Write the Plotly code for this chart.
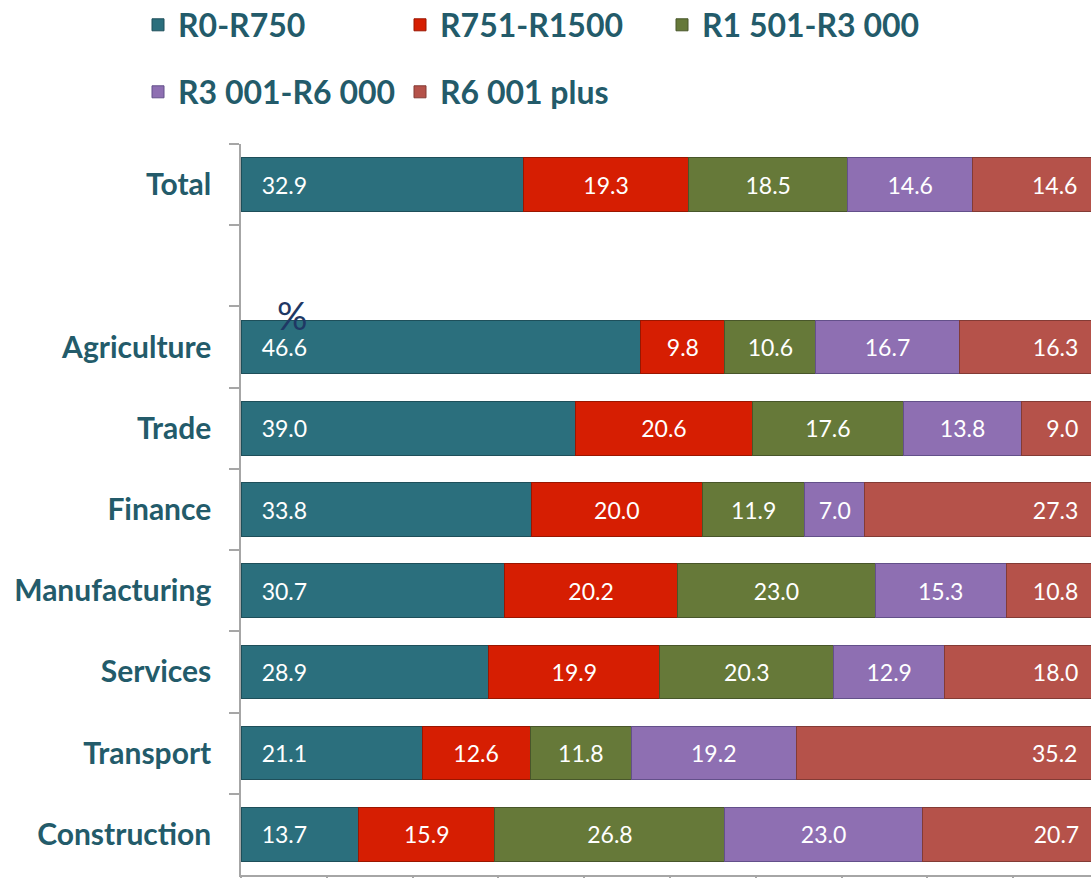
import plotly.graph_objects as go

categories = ["Total", " ", "Agriculture", "Trade", "Finance", "Manufacturing",
              "Services", "Transport", "Construction"]
series_names = ["R0-R750", "R751-R1500", "R1 501-R3 000", "R3 001-R6 000", "R6 001 plus"]
r0_r750 = [32.9, None, 46.6, 39.0, 33.8, 30.7, 28.9, 21.1, 13.7]
r751_r1500 = [19.3, None, 9.8, 20.6, 20.0, 20.2, 19.9, 12.6, 15.9]
r1501_r3000 = [18.5, None, 10.6, 17.6, 11.9, 23.0, 20.3, 11.8, 26.8]
r3001_r6000 = [14.6, None, 16.7, 13.8, 7.0, 15.3, 12.9, 19.2, 23.0]
r6001_plus = [14.6, None, 16.3, 9.0, 27.3, 10.8, 18.0, 35.2, 20.7]

values = [r0_r750, r751_r1500, r1501_r3000, r3001_r6000, r6001_plus]
colors = ["#2B6F7D", "#D61E02", "#667939", "#8E6FB2", "#B5524A"]
edges = ["#1E4F5A", "#9A1600", "#48562A", "#63508A", "#833B35"]
anchors = ["start", "middle", "middle", "middle", "end"]
NB = "\u00a0"
templates = [NB * 3 + "%{x:.1f}", "%{x:.1f}", "%{x:.1f}", "%{x:.1f}", "%{x:.1f}" + NB * 3]
legends = ["legend", "legend", "legend", "legend2", "legend2"]

TXT = "#235B6A"
FONT = "Lato"
W, H = 1091, 878
L, T, B, R = 241, 144, 3, 0
PH = H - T - B
PW = W - L - R

fig = go.Figure()
for name, vals, c, e, a, t, lg in zip(series_names, values, colors, edges, anchors, templates, legends):
    fig.add_trace(go.Bar(
        y=categories, x=vals, name=name, orientation="h",
        marker=dict(color=c, line=dict(color=e, width=1)),
        texttemplate=t, textposition="inside", insidetextanchor=a,
        textfont=dict(family=FONT, size=23, color="white"),
        legend=lg, hoverinfo="x+name",
    ))

legend_common = dict(orientation="h", xref="paper", yref="paper",
                     xanchor="left", yanchor="middle", traceorder="normal",
                     entrywidth=217, entrywidthmode="pixels",
                     font=dict(family=FONT, size=32, color=TXT, weight="bold"),
                     itemwidth=30, tracegroupgap=0, bgcolor="rgba(0,0,0,0)")

fig.update_layout(
    width=W, height=H,
    barmode="stack", bargap=0.34,
    plot_bgcolor="white", paper_bgcolor="white",
    margin=dict(l=L, r=R, t=T, b=B, autoexpand=False),
    font=dict(family=FONT, color=TXT),
    legend=dict(x=(138 - L) / PW, y=1 + (T - 25) / PH, **legend_common),
    legend2=dict(x=(138 - L) / PW, y=1 + (T - 92) / PH, **legend_common),
    xaxis=dict(range=[0, 99.07], dtick=10, tick0=0, showgrid=False, zeroline=False,
               showline=True, linecolor="#A6A6A6", linewidth=1.5,
               ticks="outside", ticklen=6, tickcolor="#A6A6A6", tickwidth=1.5,
               showticklabels=False, automargin=False),
    yaxis=dict(categoryorder="array", categoryarray=categories, autorange="reversed",
               showgrid=False, zeroline=False,
               showline=True, linecolor="#A6A6A6", linewidth=1.5,
               ticks="outside", ticklen=10, tickcolor="#A6A6A6", tickwidth=1.5,
               tickson="boundaries", ticklabelstandoff=22, automargin=False,
               tickfont=dict(family=FONT, size=30, color=TXT, weight="bold")),
)

fig.add_annotation(x=5.9, y=1.6, xref="x", yref="y", text="%", showarrow=False,
                   font=dict(family=FONT, size=38, color="#1F3864"))

fig.write_html(
    "out.html",
    config={"displayModeBar": False},
    post_script="document.body.style.margin='0';document.body.style.overflow='hidden';",
)
